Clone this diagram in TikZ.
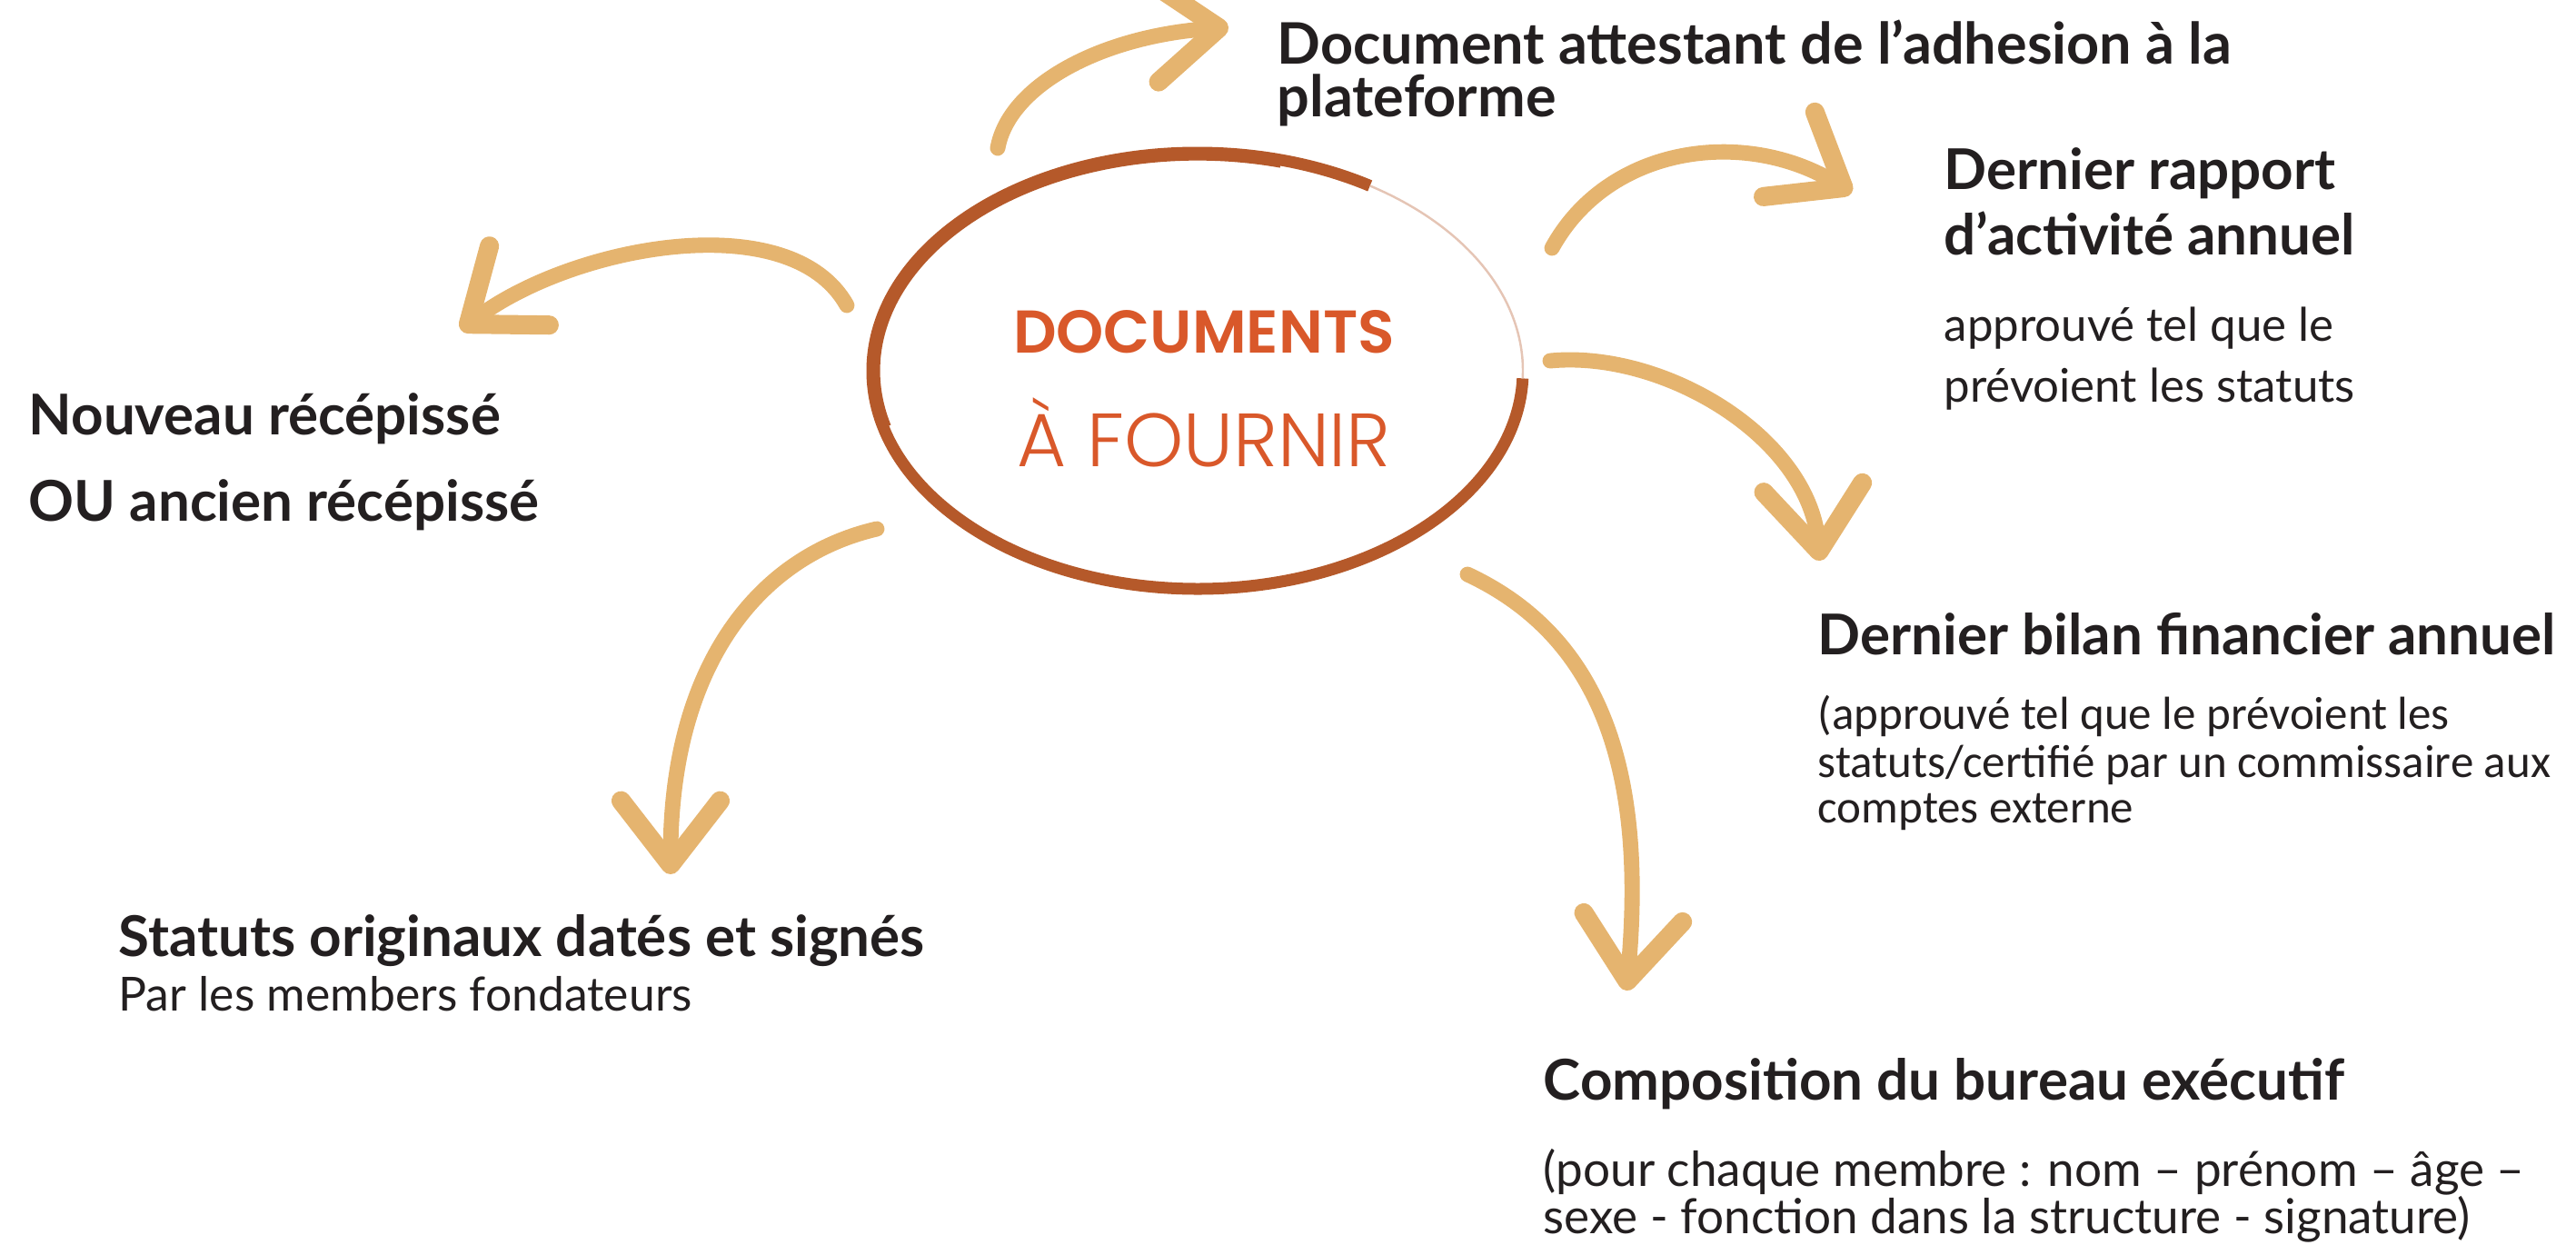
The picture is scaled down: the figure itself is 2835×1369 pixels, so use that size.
\documentclass[tikz,border=0pt]{standalone}
\usepackage{fontspec}
\setmainfont{Lato}
\newfontfamily\calib{Carlito}
\newfontfamily\popB{Poppins SemiBold}
\newfontfamily\popL{Poppins Light}
\usetikzlibrary{arrows.meta}
\definecolor{sand}{RGB}{229,180,111}
\definecolor{rust}{RGB}{181,89,42}
\definecolor{flame}{RGB}{217,88,42}
\definecolor{ink}{RGB}{35,31,32}
\tikzset{%
  tipA/.tip={Straight Barb[length=20pt,width=31pt,line width=6pt,round]},
  swoosh/.style={draw=sand, line width=4.8pt, line cap=round, -tipA},
  head/.style={font=\bfseries\fontsize{17.6}{20}\selectfont, text=ink, inner sep=0pt, anchor=base west},
  sub/.style={font=\fontsize{14.8}{18}\selectfont, text=ink, inner sep=0pt, anchor=base west},
}

\begin{document}
\begin{tikzpicture}[x=0.01cm,y=-0.01cm]
\useasboundingbox (0,0) rectangle (2835,1369);
\coordinate (hub) at (1318,408);
\draw[rust, line width=3.7pt] (hub) ++(2:358 and 240) arc[start angle=2, end angle=302, x radius=358, y radius=240];
\draw[rust, line width=1.5pt] (hub) ++(165:352 and 234) arc[start angle=165, end angle=285, x radius=352, y radius=234];
\draw[rust!35, line width=0.7pt] (hub) ++(302:358 and 240) arc[start angle=302, end angle=362, x radius=358, y radius=240];
\node (title1) [anchor=base, inner sep=0pt, text=flame, font=\popB\fontsize{18.9}{20}\selectfont] at (1325,388) {DOCUMENTS};
\node (title2) [anchor=base, inner sep=0pt, text=flame, font=\popL\fontsize{23.6}{26}\selectfont] at (1325,513) {À FOURNIR};

\node (doc1) [head, font=\bfseries\fontsize{17.9}{20}\selectfont] at (1405,70) {Document attestant de l’adhesion à la};
\node (doc2) [head, font=\bfseries\fontsize{17.9}{20}\selectfont] at (1405,128) {plateforme};
\node (rap1) [head] at (2139,208) {Dernier rapport};
\node (rap2) [head] at (2139,280) {d’activité annuel};
\node (rap3) [sub, font=\fontsize{14.5}{18}\selectfont] at (2139,375) {approuvé tel que le};
\node (rap4) [sub, font=\fontsize{14.5}{18}\selectfont] at (2139,442) {prévoient les statuts};
\node (rec1) [head] at (31,478) {Nouveau récépissé};
\node (rec2) [head] at (31,573) {OU ancien récépissé};
\node (bil1) [head] at (2000,720) {Dernier bilan financier annuel};
\node (bil2) [sub, font=\calib\fontsize{14.5}{16}\selectfont] at (2000,802) {(approuvé tel que le prévoient les};
\node (bil3) [sub, font=\calib\fontsize{14.5}{16}\selectfont] at (2000,855) {statuts/certifié par un commissaire aux};
\node (bil4) [sub, font=\calib\fontsize{14.5}{16}\selectfont] at (2000,905) {comptes externe};
\node (sta1) [head] at (130,1052) {Statuts originaux datés et signés};
\node (sta2) [sub, font=\fontsize{14.7}{16}\selectfont] at (130,1112) {Par les members fondateurs};
\node (com1) [head] at (1698,1210) {Composition du bureau exécutif};
\node (com2) [sub, font=\fontsize{15.1}{18}\selectfont] at (1698,1305) {(pour chaque membre : nom – prénom – âge –};
\node (com3) [sub, font=\fontsize{15.1}{18}\selectfont] at (1698,1357) {sexe - fonction dans la structure - signature)};

\coordinate (a1) at (1098,163);  \coordinate (a1t) at (1352,30);
\coordinate (a2) at (1708,273);  \coordinate (a2t) at (2038,212);
\coordinate (a3) at (1706,397);  \coordinate (a3t) at (2003,617);
\coordinate (a4) at (1615,632);  \coordinate (a4t) at (1790,1090);
\coordinate (a5) at (965,582);   \coordinate (a5t) at (738,962);
\coordinate (a6) at (932,336);   \coordinate (a6t) at (507,363);
\draw[swoosh] (a1) .. controls (1110,95) and (1210,40) .. (a1t);
\draw[swoosh] (a2) .. controls (1770,160) and (1920,140) .. (a2t);
\draw[swoosh] (a3) .. controls (1830,385) and (1990,480) .. (a3t);
\draw[swoosh] (a4) .. controls (1769,704) and (1811,860) .. (a4t);
\draw[swoosh] (a5) .. controls (835,612) and (738,732) .. (a5t);
\draw[swoosh] (a6) .. controls (870,225) and (630,270) .. (a6t);
\end{tikzpicture}
\end{document}
